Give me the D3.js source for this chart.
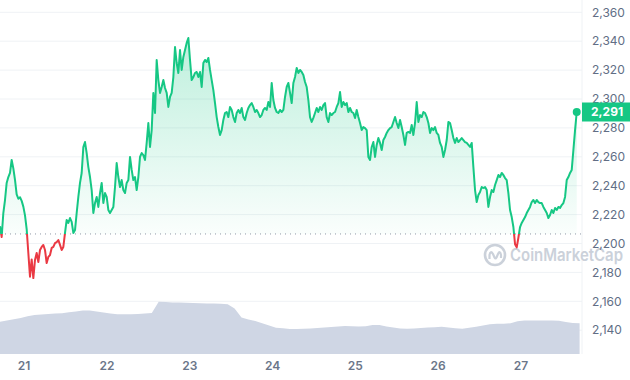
<!DOCTYPE html>
<html>
<head>
<meta charset="utf-8">
<script src="https://cdn.jsdelivr.net/npm/d3@7"></script>
<style>
  body { margin: 0; background: #fff; }
  svg { display: block; font-family: Inter, "Noto Sans", sans-serif; }
</style>
</head>
<body>
<div id="chart"></div>
<script>
// price samples, evenly spaced from priceStart to priceEnd
const prices = [
  2212.0, 2204.5, 2221.1, 2230.1, 2241.9, 2246.0, 2248.8, 2257.8, 2252.0, 2244.0,
  2234.0, 2231.0, 2232.0, 2229.5, 2225.5, 2219.5, 2210.0, 2193.4, 2177.0, 2189.0,
  2176.1, 2188.6, 2193.4, 2187.2, 2195.5, 2197.6, 2199.0, 2195.5, 2186.5, 2190.7,
  2192.0, 2196.9, 2197.6, 2200.3, 2201.0, 2202.4, 2199.0, 2195.5, 2197.6, 2207.3,
  2216.3, 2214.2, 2217.6, 2214.9, 2207.3, 2209.3, 2221.1, 2232.2, 2241.9, 2248.8,
  2266.8, 2270.2, 2262.6, 2252.9, 2246.0, 2237.0, 2221.1,
  2228.0, 2232.2, 2225.3, 2234.9, 2241.9, 2228.0, 2234.9, 2232.2, 2223.2, 2221.1,
  2223.2, 2225.3, 2239.1, 2255.7, 2246.0, 2239.1, 2243.9, 2237.0, 2234.9, 2241.9,
  2243.9, 2259.9, 2250.9, 2243.9, 2246.0, 2237.0, 2246.0, 2259.9, 2262.6, 2261.2,
  2257.8, 2269.6, 2283.4, 2266.8, 2278.5, 2304.2, 2290.3, 2327.0, 2313.1, 2304.2,
  2308.3, 2313.1, 2307.6, 2304.2, 2294.5, 2301.4, 2304.2, 2315.2, 2336.0, 2324.9,
  2318.0, 2333.9, 2320.1, 2329.1, 2333.9, 2338.8, 2342.2, 2327.0, 2313.1, 2315.2,
  2318.0, 2318.7, 2315.2, 2318.7, 2308.3, 2324.9, 2327.0,
  2325.6, 2328.4, 2320.1, 2313.1, 2306.2, 2297.2, 2287.5, 2280.6, 2275.1, 2278.5,
  2285.5, 2290.3, 2291.0, 2287.5, 2294.5, 2292.4, 2287.5, 2284.1, 2290.3, 2292.4,
  2290.3, 2293.8, 2287.5, 2285.5, 2290.3, 2293.8, 2295.8, 2297.2, 2294.5, 2291.0,
  2292.4, 2290.3, 2287.5, 2288.9, 2292.4, 2293.8, 2292.4, 2297.9, 2294.5, 2311.1,
  2299.3, 2293.8, 2291.0, 2290.3, 2292.4, 2291.0, 2292.4, 2301.4, 2308.3, 2311.1,
  2304.2, 2297.2, 2311.1, 2315.2, 2321.5, 2318.0, 2320.1, 2318.7, 2316.6, 2311.8,
  2308.3, 2299.3, 2287.5, 2284.1, 2286.9, 2290.3, 2293.8, 2291.0, 2294.5, 2292.4,
  2295.8, 2297.2, 2287.5, 2284.1, 2290.3, 2288.9, 2290.3, 2291.0, 2294.5, 2297.2,
  2304.8, 2294.5, 2297.9, 2295.8, 2297.2, 2291.0, 2293.8, 2291.0, 2290.3, 2286.9,
  2292.4, 2287.5, 2283.4, 2278.5, 2280.6, 2279.9, 2278.5, 2259.9, 2257.8, 2266.8,
  2270.2, 2259.9, 2268.2, 2273.0, 2269.6, 2264.7, 2271.6, 2273.7, 2276.5, 2278.5,
  2279.9, 2280.6, 2284.1,
  2287.5, 2283.4, 2279.9, 2285.5, 2280.6, 2275.1, 2268.2, 2276.5, 2277.2, 2276.5,
  2282.0, 2275.1, 2283.4, 2297.9, 2284.1, 2288.9, 2287.5, 2291.0, 2290.3, 2287.5,
  2283.4, 2276.5, 2279.9, 2278.5, 2280.6, 2276.5, 2275.1, 2269.6, 2266.8, 2259.9,
  2264.7, 2271.6, 2284.1, 2283.4, 2278.5, 2273.0, 2269.6, 2273.0, 2270.2, 2271.6,
  2273.0, 2271.6, 2270.2, 2269.6, 2268.2, 2266.8, 2269.6, 2252.9, 2237.0, 2228.7,
  2233.6, 2235.6, 2239.1, 2238.4, 2239.1, 2237.0, 2225.3, 2232.2, 2237.0, 2235.6,
  2240.5, 2243.9, 2247.4, 2246.0, 2248.8, 2247.4, 2245.3, 2243.9, 2234.9, 2223.2,
  2218.3, 2211.4, 2199.5, 2197.3, 2204.0, 2211.4, 2214.2, 2216.3, 2218.3, 2221.1,
  2223.2, 2225.3, 2228.7, 2230.1, 2228.0, 2230.1, 2228.7, 2228.0, 2228.0, 2225.3,
  2223.2, 2221.1, 2217.6, 2219.7, 2223.2, 2221.1, 2224.6, 2223.2, 2225.3, 2224.6,
  2226.6, 2228.0, 2232.2, 2243.9, 2246.0, 2248.8, 2250.9, 2264.7, 2278.5, 2291.0
];

// 24h volume in billions, one value every 2 hours
const volumes = [
  8.73, 9.05, 9.38, 9.70, 10.22, 10.57, 10.68, 10.78, 10.92, 11.03,
  11.27, 11.51, 11.76, 11.78, 11.46, 11.19, 10.95, 10.73, 10.73, 10.73,
  10.81, 10.92, 11.05, 14.14, 14.03, 13.95, 13.92, 13.86, 13.78, 13.73,
  13.68, 13.62, 13.57, 13.43, 12.30, 9.84, 9.30, 8.89, 8.32, 7.68,
  7.08, 6.95, 6.78, 6.78, 6.81, 6.89, 7.03, 7.14, 7.30, 7.46,
  7.54, 7.49, 7.41, 7.51, 7.86, 7.84, 7.46, 7.16, 6.89, 6.81,
  6.92, 7.05, 7.16, 7.24, 7.35, 7.19, 6.95, 6.84, 7.08, 7.35,
  7.73, 8.03, 8.19, 8.19, 8.30, 8.84, 9.08, 9.05, 9.03, 9.03,
  9.08, 9.00, 8.68, 8.41, 8.30
];

const priceStart = new Date(2023, 11, 20, 17, 0);
const priceEnd = new Date(2023, 11, 27, 16, 10);
const volumeStepHours = 2;
const openPrice = 2206.6;
const yTicks = [2140, 2160, 2180, 2200, 2220, 2240, 2260, 2280, 2300, 2320, 2340, 2360];
const dayTicks = [21, 22, 23, 24, 25, 26, 27];

const green = "#16c784", red = "#ea3943";

//*********************************************
// canvas
const canvWidth = 630, canvHeight = 380;
const svg = d3.select("#chart").append("svg")
    .attr("width", canvWidth)
    .attr("height", canvHeight);

const plotRight = 582, volBottom = 354;

const step = (priceEnd - priceStart) / (prices.length - 1);
const priceData = prices.map((p, i) => ({ t: new Date(+priceStart + i * step), v: p }));
const volData = volumes.map((v, i) => ({ t: d3.timeHour.offset(priceStart, i * volumeStepHours), v: v }));

// scales
const xScale = d3.scaleTime()
    .domain([priceStart, d3.timeHour.offset(priceStart, 168)])
    .range([0, 579.6]);

const yScale = d3.scaleLinear()
    .domain([2140, 2360])
    .range([330.2, 12.3]);

const volScale = d3.scaleLinear()
    .domain([0, 20])
    .range([volBottom, 280]);

const baseY = yScale(openPrice);

//*********************************************
// defs: gradient + clips
const defs = svg.append("defs");
const grad = defs.append("linearGradient")
    .attr("id", "fillGrad")
    .attr("gradientUnits", "userSpaceOnUse")
    .attr("x1", 0).attr("x2", 0)
    .attr("y1", yScale(2342)).attr("y2", baseY);
grad.append("stop").attr("offset", 0).attr("stop-color", green).attr("stop-opacity", 0.28);
grad.append("stop").attr("offset", 1).attr("stop-color", green).attr("stop-opacity", 0.02);

defs.append("clipPath").attr("id", "clipUp")
  .append("rect").attr("x", 0).attr("y", 0).attr("width", canvWidth).attr("height", baseY);
defs.append("clipPath").attr("id", "clipDown")
  .append("rect").attr("x", 0).attr("y", baseY).attr("width", canvWidth).attr("height", canvHeight - baseY);

//*********************************************
// grid
svg.append("g")
  .selectAll("line")
  .data(yTicks)
  .enter().append("line")
    .attr("x1", 0).attr("x2", plotRight)
    .attr("y1", d => yScale(d)).attr("y2", d => yScale(d))
    .attr("stroke", "#eff2f5")
    .attr("stroke-width", 1);

svg.append("line")
    .attr("x1", plotRight).attr("x2", plotRight)
    .attr("y1", 0).attr("y2", volBottom)
    .attr("stroke", "#eff2f5");

// volume area
const volArea = d3.area()
    .x(d => xScale(d.t))
    .y0(volBottom)
    .y1(d => volScale(d.v));

svg.append("path")
    .datum(volData)
    .attr("d", volArea)
    .attr("fill", "#cfd6e4");

// watermark
const wm = svg.append("g").attr("transform", "translate(495,255)");
wm.append("circle")
    .attr("r", 10)
    .attr("fill", "none")
    .attr("stroke", "#cbd1da")
    .attr("stroke-width", 2.6);
wm.append("path")
    .attr("d", "M-5.5,4 L-5.5,0 Q-4.5,-5 -2,-1 L-0.5,2.5 Q0.5,4.5 1.5,2.5 L3,-1 Q5,-5 6,0 L6,3")
    .attr("fill", "none")
    .attr("stroke", "#cbd1da")
    .attr("stroke-width", 2.2)
    .attr("stroke-linejoin", "round");
svg.append("text")
    .attr("x", 510)
    .attr("y", 261)
    .attr("font-size", 17)
    .attr("font-weight", 600)
    .attr("textLength", 113)
    .attr("lengthAdjust", "spacingAndGlyphs")
    .attr("fill", "#cbd1da")
    .text("CoinMarketCap");

// price fill
const priceArea = d3.area()
    .x(d => xScale(d.t))
    .y0(baseY)
    .y1(d => yScale(d.v));

svg.append("path")
    .datum(priceData)
    .attr("d", priceArea)
    .attr("fill", "url(#fillGrad)")
    .attr("clip-path", "url(#clipUp)");

// open price dotted line
svg.append("line")
    .attr("x1", 0).attr("x2", plotRight)
    .attr("y1", baseY).attr("y2", baseY)
    .attr("stroke", "#8f98a8")
    .attr("stroke-width", 1)
    .attr("stroke-dasharray", "1,4");

// price line, green above open, red below
const priceLine = d3.line()
    .x(d => xScale(d.t))
    .y(d => yScale(d.v));

svg.append("path")
    .datum(priceData)
    .attr("d", priceLine)
    .attr("fill", "none")
    .attr("stroke", green)
    .attr("stroke-width", 2)
    .attr("stroke-linejoin", "round")
    .attr("clip-path", "url(#clipUp)");

svg.append("path")
    .datum(priceData)
    .attr("d", priceLine)
    .attr("fill", "none")
    .attr("stroke", red)
    .attr("stroke-width", 2)
    .attr("stroke-linejoin", "round")
    .attr("clip-path", "url(#clipDown)");

//*********************************************
// y labels
svg.append("g")
  .selectAll("text")
  .data(yTicks)
  .enter().append("text")
    .attr("x", 592)
    .attr("y", d => yScale(d))
    .attr("dy", "0.35em")
    .attr("font-size", 12)
    .attr("fill", "#616e85")
    .text(d => d3.format(",")(d));

// x labels
svg.append("g")
  .selectAll("text")
  .data(dayTicks)
  .enter().append("text")
    .attr("x", d => xScale(new Date(2023, 11, d)))
    .attr("y", 366)
    .attr("dy", "0.35em")
    .attr("text-anchor", "middle")
    .attr("font-size", 12)
    .attr("font-weight", 600)
    .attr("fill", "#6b7689")
    .text(d => d);

// last price marker
const last = priceData[priceData.length - 1];
svg.append("circle")
    .attr("cx", xScale(last.t))
    .attr("cy", yScale(last.v))
    .attr("r", 4)
    .attr("fill", green);

svg.append("rect")
    .attr("x", 582)
    .attr("y", yScale(last.v) - 9.5)
    .attr("width", 48)
    .attr("height", 19)
    .attr("fill", green);

svg.append("text")
    .attr("x", 591)
    .attr("y", yScale(last.v))
    .attr("dy", "0.35em")
    .attr("font-size", 12)
    .attr("font-weight", 700)
    .attr("fill", "#fff")
    .text(d3.format(",.0f")(last.v));
</script>
</body>
</html>
